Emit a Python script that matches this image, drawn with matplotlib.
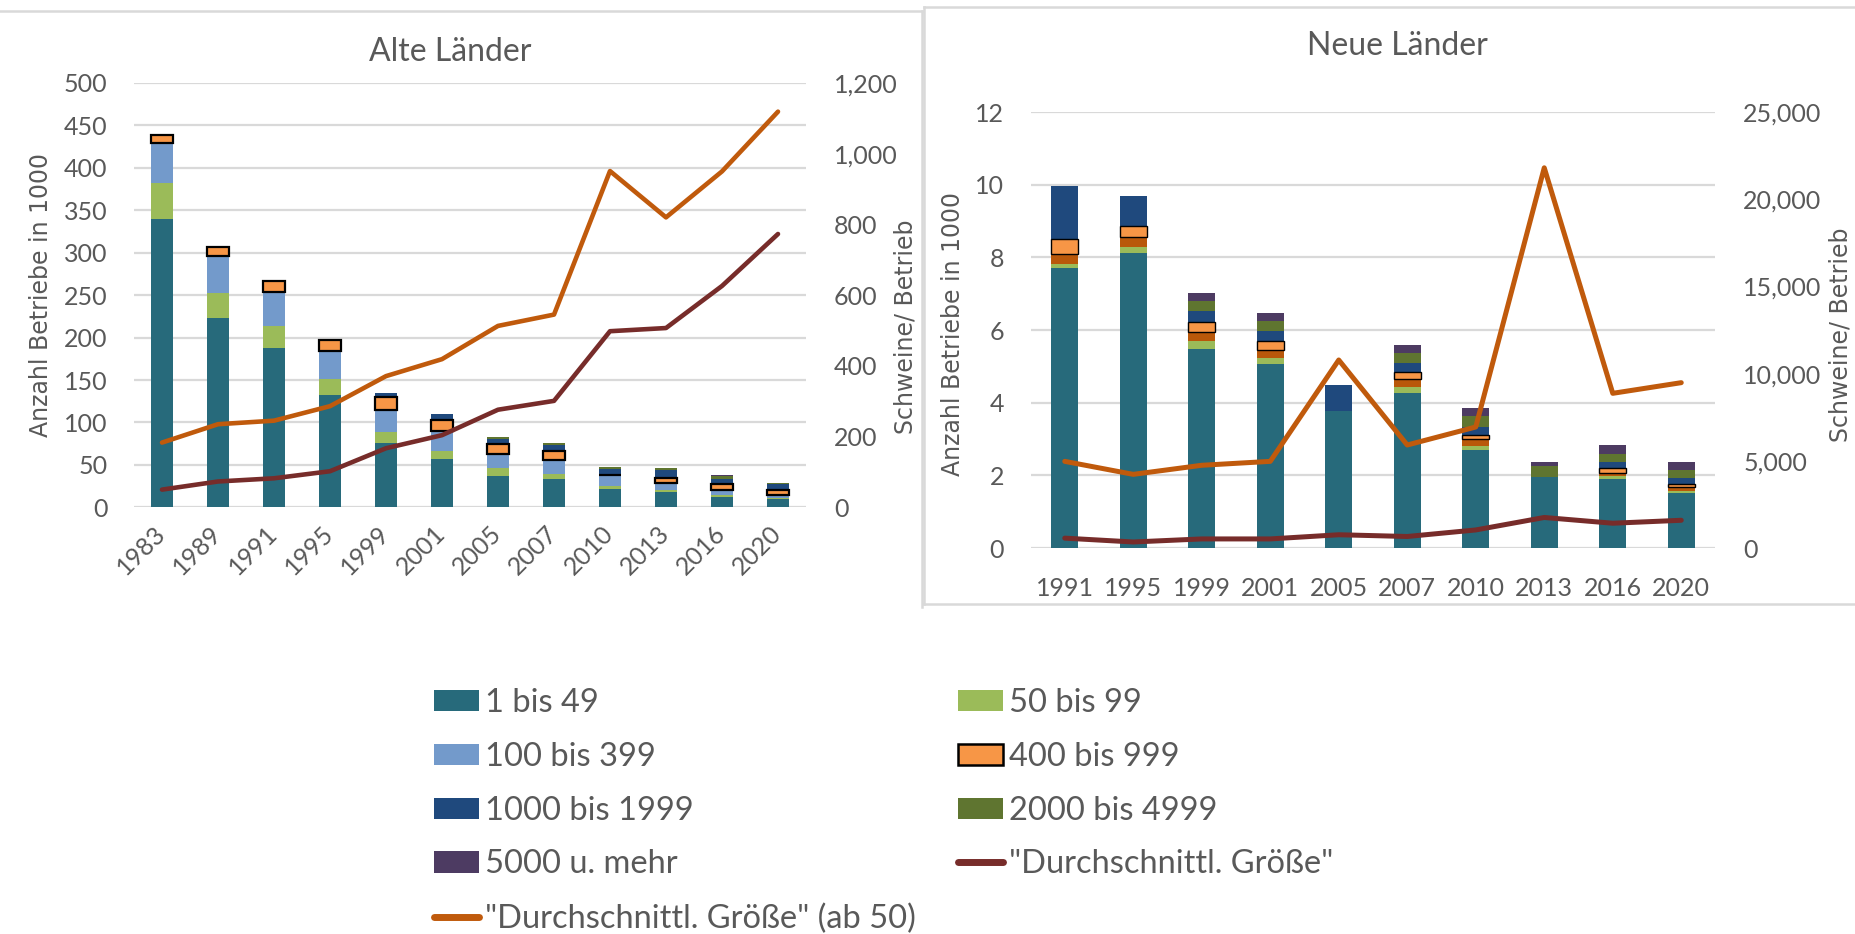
import numpy as np
import matplotlib
matplotlib.use("Agg")
import matplotlib.pyplot as plt
from matplotlib.patches import Patch
from matplotlib.lines import Line2D
from matplotlib.ticker import FuncFormatter

# ---------------- data ----------------
years_alt = ["1983", "1989", "1991", "1995", "1999", "2001", "2005", "2007", "2010", "2013", "2016", "2020"]
alt_1_49 = [339.4, 223, 187.7, 132, 75.4, 56.5, 37.3, 33, 22, 18, 12.5, 9.4]
alt_50_99 = [43.1, 29.5, 25.9, 18.8, 13.7, 10, 8.7, 6.3, 3.1, 2.4, 1.6, 1.6]
alt_100_399 = [47.2, 44, 40.5, 33, 25.5, 23.8, 16.8, 16.8, 12.4, 8.2, 6.7, 3.5]
alt_400_999 = [8.6, 10.6, 12.2, 13.7, 15.1, 12.6, 11.4, 10.2, 0.3, 6.3, 6.3, 6.3]
alt_1000_1999 = [0, 0, 0, 0, 4.6, 6.6, 6.8, 6.7, 6.9, 9.0, 6.7, 6.7]
alt_2000_4999 = [0, 0, 0, 0, 0, 0, 1.5, 2.4, 2.4, 2.4, 3.2, 0.8]
alt_5000 = [0, 0, 0, 0, 0, 0, 0, 0, 0.3, 0.4, 0.7, 0.3]
alt_avg = [50, 73, 82, 102, 167, 204, 276, 301, 498, 507, 626, 773]
alt_avg50 = [183, 235, 245, 286, 371, 419, 513, 545, 951, 820, 950, 1119]

years_neu = ["1991", "1995", "1999", "2001", "2005", "2007", "2010", "2013", "2016", "2020"]
neu_1_49 = [7.71, 8.12, 5.49, 5.06, 3.77, 4.26, 2.69, 1.95, 1.90, 1.51]
neu_50_99 = [0.11, 0.17, 0.20, 0.16, 0, 0.16, 0.11, 0, 0.08, 0.06]
neu_100_399 = [0.27, 0.26, 0.25, 0.24, 0, 0.24, 0.19, 0, 0.09, 0.11]
neu_400_999 = [0.42, 0.30, 0.28, 0.25, 0, 0.19, 0.13, 0, 0.12, 0.09]
neu_1000_1999 = [1.46, 0.85, 0.29, 0.25, 0.71, 0.23, 0.20, 0, 0.17, 0.15]
neu_2000_4999 = [0, 0, 0.30, 0.30, 0, 0.30, 0.31, 0.30, 0.22, 0.22]
neu_5000 = [0, 0, 0.20, 0.20, 0, 0.22, 0.22, 0.11, 0.25, 0.22]
neu_avg = [565, 345, 520, 520, 760, 660, 1035, 1750, 1420, 1590]
neu_avg50 = [4968, 4223, 4743, 4968, 10780, 5906, 6938, 21800, 8869, 9480]

labels = ["1 bis 49", "50 bis 99", "100 bis 399", "400 bis 999", "1000 bis 1999",
          "2000 bis 4999", "5000 u. mehr", "\"Durchschnittl. Größe\"",
          "\"Durchschnittl. Größe\" (ab 50)"]

# ---------------- style ----------------
TXT = '#595959'
GRID = '#D9D9D9'
FONT = ['Lato', 'DejaVu Sans']
C_TEAL = '#276A7B'
C_GREEN = '#9BBB59'
C_LBLUE = '#739ACB'
C_ORANGE = '#F79646'
C_DBLUE = '#1F497D'
C_OLIVE = '#5F7530'
C_PURPLE = '#4D3B62'
C_RUST = '#B9580A'
C_LINE_OR = '#C05A0C'
C_LINE_RED = '#772C2A'

W, H = 1856, 934
fig = plt.figure(figsize=(W / 100, H / 100), dpi=100)


def fx(px):
    return px / W


def fy(py):
    return 1 - py / H


def style_axes(ax, axr, n):
    for a in (ax, axr):
        for s in a.spines.values():
            s.set_visible(False)
        a.tick_params(length=0, colors=TXT, labelsize=18)
        for lab in a.get_yticklabels() + a.get_xticklabels():
            lab.set_family(FONT)
    ax.set_axisbelow(True)
    ax.yaxis.grid(True, color=GRID, lw=1.6)
    ax.set_xlim(-0.5, n - 0.5)


def stack(ax, x, series, colors, width, edge_idx, edge_lw):
    bottom = np.zeros(len(x))
    for i, (vals, col) in enumerate(zip(series, colors)):
        vals = np.asarray(vals, dtype=float)
        if i == edge_idx:
            lws = [edge_lw if v > 0 else 0 for v in vals]
            ax.bar(x, vals, width, bottom=bottom, color=col, edgecolor='black',
                   linewidth=lws, zorder=3)
        else:
            ax.bar(x, vals, width, bottom=bottom, color=col, linewidth=0, zorder=2)
        bottom = bottom + vals


comma = FuncFormatter(lambda v, p: f"{int(v):,}")

# ---------------- Alte Länder ----------------
ax1 = fig.add_axes([fx(134), fy(507.3), (806 - 134) / W, (507.3 - 83) / H])
x1 = np.arange(len(years_alt))
stack(ax1, x1, [alt_1_49, alt_50_99, alt_100_399, alt_400_999, alt_1000_1999, alt_2000_4999, alt_5000],
      [C_TEAL, C_GREEN, C_LBLUE, C_ORANGE, C_DBLUE, C_OLIVE, C_PURPLE], 0.39, 3, 1.6)
ax1.set_ylim(0, 500)
ax1.set_yticks(np.arange(0, 501, 50))
ax1r = ax1.twinx()
ax1r.plot(x1, alt_avg, color=C_LINE_RED, lw=3.3, solid_capstyle='round', zorder=4)
ax1r.plot(x1, alt_avg50, color=C_LINE_OR, lw=3.3, solid_capstyle='round', zorder=4)
ax1r.set_ylim(0, 1200)
ax1r.set_yticks(np.arange(0, 1201, 200))
ax1r.yaxis.set_major_formatter(comma)
ax1.set_xticks(x1)
ax1.set_xticklabels(years_alt, rotation=45, ha='right', va='center', rotation_mode='anchor')
style_axes(ax1, ax1r, len(years_alt))
ax1.tick_params(axis='y', pad=19)
ax1r.tick_params(axis='y', pad=20)
ax1.tick_params(axis='x', pad=16)

fig.text(fx(450), fy(52), "Alte Länder", ha='center', va='center', fontsize=23, color=TXT, family=FONT)
fig.text(fx(41), fy(295), "Anzahl Betriebe in 1000", rotation=90, ha='center', va='center',
         fontsize=17, color=TXT, family='DejaVu Sans')
fig.text(fx(906), fy(327), "Schweine/ Betrieb", rotation=90, ha='center', va='center',
         fontsize=17, color=TXT, family='DejaVu Sans')

# ---------------- Neue Länder ----------------
ax2 = fig.add_axes([fx(1030.5), fy(548), 685 / W, 436 / H])
x2 = np.arange(len(years_neu))
stack(ax2, x2, [neu_1_49, neu_50_99, neu_100_399, neu_400_999, neu_1000_1999, neu_2000_4999, neu_5000],
      [C_TEAL, C_GREEN, C_RUST, C_ORANGE, C_DBLUE, C_OLIVE, C_PURPLE], 0.40, 3, 1.0)
ax2.set_ylim(0, 12)
ax2.set_yticks(np.arange(0, 13, 2))
ax2r = ax2.twinx()
ax2r.plot(x2, neu_avg, color=C_LINE_RED, lw=3.6, solid_capstyle='round', zorder=4)
ax2r.plot(x2, neu_avg50, color=C_LINE_OR, lw=3.6, solid_capstyle='round', zorder=4)
ax2r.set_ylim(0, 25000)
ax2r.set_yticks(np.arange(0, 25001, 5000))
ax2r.yaxis.set_major_formatter(comma)
ax2.set_xticks(x2)
ax2.set_xticklabels(years_neu)
style_axes(ax2, ax2r, len(years_neu))
ax2.tick_params(axis='y', pad=19)
ax2r.tick_params(axis='y', pad=20)
ax2.tick_params(axis='x', pad=21)

fig.text(fx(1397), fy(46), "Neue Länder", ha='center', va='center', fontsize=23, color=TXT, family=FONT)
fig.text(fx(953), fy(334), "Anzahl Betriebe in 1000", rotation=90, ha='center', va='center',
         fontsize=17, color=TXT, family='DejaVu Sans')
fig.text(fx(1841), fy(335), "Schweine/ Betrieb", rotation=90, ha='center', va='center',
         fontsize=17, color=TXT, family='DejaVu Sans')

# ---------------- panel borders ----------------
def fline(xs, ys):
    fig.add_artist(Line2D([fx(v) for v in xs], [fy(v) for v in ys], color=GRID, lw=1.8))

fline([0, 922], [11, 11])
fline([922, 922], [11, 607])
fline([924, 1856], [6.5, 6.5])
fline([924, 924], [6.5, 604])
fline([924, 1856], [604, 604])

# ---------------- legend ----------------
h = {
    labels[0]: Patch(facecolor=C_TEAL, linewidth=0),
    labels[1]: Patch(facecolor=C_GREEN, linewidth=0),
    labels[2]: Patch(facecolor=C_LBLUE, linewidth=0),
    labels[3]: Patch(facecolor=C_ORANGE, edgecolor='black', linewidth=1.8),
    labels[4]: Patch(facecolor=C_DBLUE, linewidth=0),
    labels[5]: Patch(facecolor=C_OLIVE, linewidth=0),
    labels[6]: Patch(facecolor=C_PURPLE, linewidth=0),
    labels[7]: Line2D([], [], color=C_LINE_RED, lw=5, solid_capstyle='round'),
    labels[8]: Line2D([], [], color=C_LINE_OR, lw=5, solid_capstyle='round'),
}
col1 = [labels[0], labels[2], labels[4], labels[6], labels[8]]
col2 = [labels[1], labels[3], labels[5], labels[7]]
leg_kw = dict(loc='upper left', frameon=False, borderpad=0, borderaxespad=0,
              handlelength=1.38, handleheight=0.62, handletextpad=0.18,
              labelspacing=0.73, prop={'family': FONT, 'size': 23.5}, labelcolor=TXT)
lg1 = fig.legend([h[k] for k in col1], col1, bbox_to_anchor=(fx(434), fy(688)), **leg_kw)
lg2 = fig.legend([h[k] for k in col2], col2, bbox_to_anchor=(fx(958), fy(688)), **leg_kw)

fig.savefig("out.png", dpi=100)
